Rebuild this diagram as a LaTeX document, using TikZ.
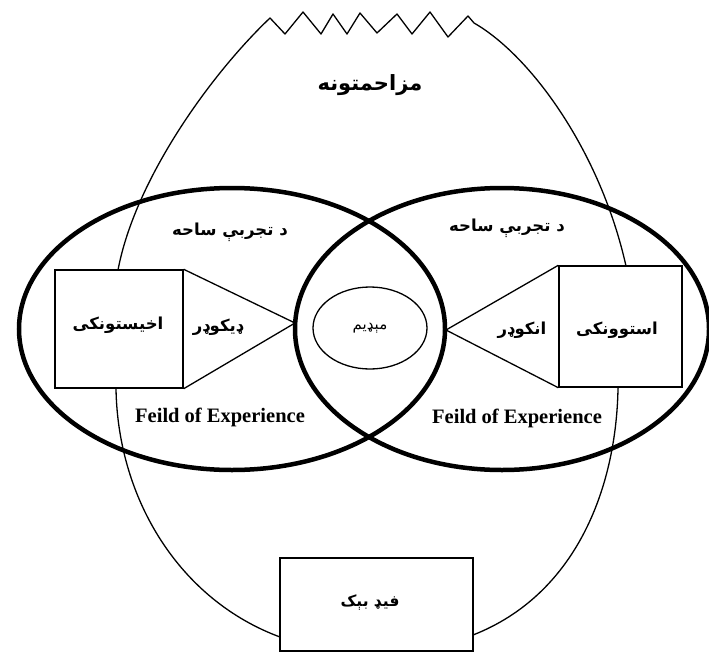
\documentclass[tikz,border=0pt]{standalone}
\usepackage{fontspec}
\setmainfont{Liberation Serif}
\newfontfamily\arabicfont[Script=Arabic]{DejaVu Sans}
\TeXXeTstate=1
\usetikzlibrary{shapes.geometric}
\begin{document}
\begin{tikzpicture}[x=1pt,y=-1pt,
  thinline/.style={line width=1.3pt, line join=round},
  fieldring/.style={draw, ellipse, line width=4.5pt, inner sep=0pt},
  boxnode/.style={draw, rectangle, line width=1.4pt, fill=white, inner sep=0pt},
  arlabel/.style={font=\arabicfont\bfseries\fontsize{16.5}{20}\selectfont, inner sep=0pt},
  arsmall/.style={font=\arabicfont\fontsize{15}{18}\selectfont, inner sep=0pt},
  enlabel/.style={font=\bfseries\fontsize{20.5}{24}\selectfont, inner sep=0pt}]
\useasboundingbox (0,0) rectangle (709,653);
\fill[white] (0,0) rectangle (709,653);

% fields of experience
\node[fieldring, minimum width=426pt, minimum height=282pt] (fieldL) at (232,329) {};
\node[fieldring, minimum width=414pt, minimum height=282pt] (fieldR) at (502,329) {};

% noise boundary
\draw[thinline] (280,637) .. controls (180,600) and (118,500) .. (116,389)
  .. controls (114,330) and (115,300) .. (118,270)
  .. controls (135,180) and (210,75) .. (270,18)
  -- (285,34) -- (303,12) -- (321,34) -- (333,14) -- (347,34) -- (360,13) -- (377,33) -- (397,14) -- (412,34) -- (430,12) -- (448,37) -- (468,16)
  -- (474,23) .. controls (530,55) and (600,150) .. (626,266)
  .. controls (632,310) and (622,350) .. (618,389)
  .. controls (616,490) and (575,595) .. (473,635);

% boxes
\node[boxnode, minimum width=128pt, minimum height=118pt] (recv) at (119,329) {};
\node[boxnode, minimum width=123pt, minimum height=121pt] (send) at (620.5,326.5) {};
\node[boxnode, minimum width=193pt, minimum height=93pt] (feed) at (376.5,604.5) {};

% triangles
\coordinate (decapex) at (295,323);
\coordinate (encapex) at (446,330);
\draw[thinline] (recv.north east) -- (decapex) -- (recv.south east);
\draw[thinline] (send.north west) -- (encapex) -- (send.south west);

% medium
\node[draw, ellipse, line width=1.3pt, minimum width=114pt, minimum height=82pt, arsmall] (medium) at (370,328) {\beginR مېډیم\endR};

% labels
\node[arlabel, font=\arabicfont\bfseries\fontsize{21}{24}\selectfont] (noise) at (370,85) {\beginR مزاحمتونه\endR};
\node[arlabel] (expL) at (230,232) {\beginR د تجربې ساحه\endR};
\node[arlabel] (expR) at (507,228) {\beginR د تجربې ساحه\endR};
\node[arlabel] (recvtext) at (118,325) {\beginR اخیستونکی\endR};
\node[arlabel] (dectext) at (218,327) {\beginR ډیکوډر\endR};
\node[arlabel] (enctext) at (522,330) {\beginR انکوډر\endR};
\node[arlabel] (sendtext) at (617,330) {\beginR استوونکی\endR};
\node[enlabel] (feL) at (220,417) {Feild of Experience};
\node[enlabel] (feR) at (517,418) {Feild of Experience};
\node[arlabel, font=\arabicfont\bfseries\fontsize{15.5}{18}\selectfont] (feedtext) at (370,602) {\beginR فیډ بېک\endR};
\end{tikzpicture}
\end{document}
